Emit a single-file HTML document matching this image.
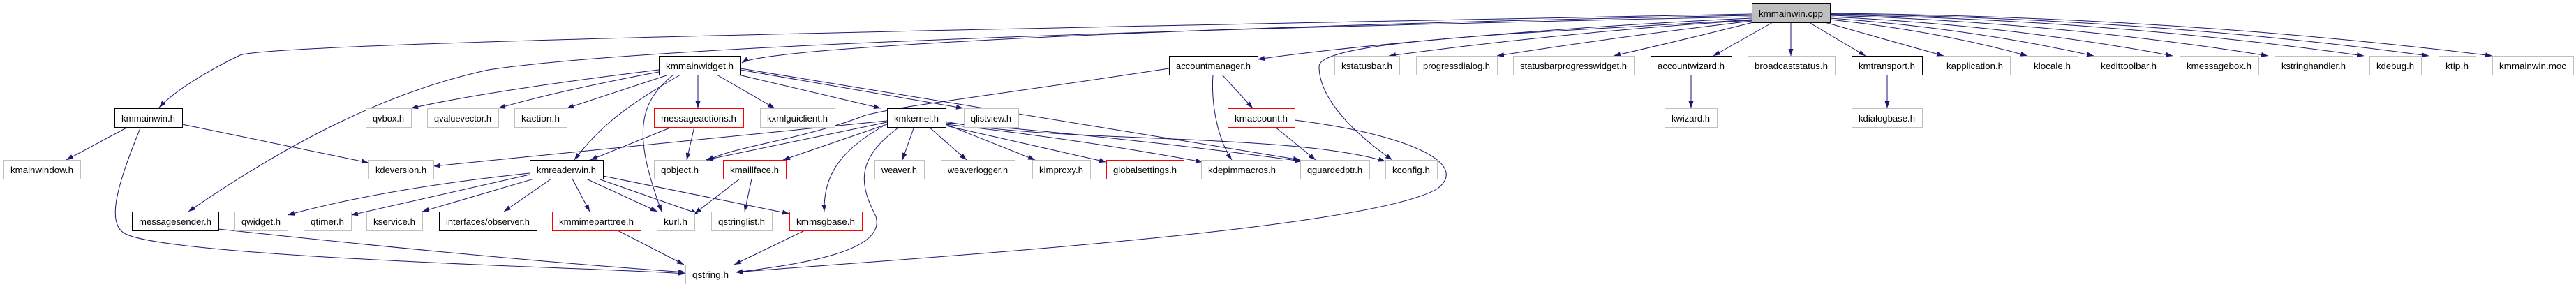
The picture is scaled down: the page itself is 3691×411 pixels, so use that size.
<!DOCTYPE html>
<html><head><meta charset="utf-8"><style>html,body{margin:0;padding:0;background:#fff;}svg{display:block}</style></head><body>
<svg width="3691" height="411" viewBox="0 0 3691 411" xmlns="http://www.w3.org/2000/svg" font-family="Liberation Sans, sans-serif" font-size="13">
<defs><marker id="a" markerUnits="userSpaceOnUse" viewBox="0 0 10 7" markerWidth="10" markerHeight="7" refX="10" refY="3.5" orient="auto"><path d="M0,0 L10,3.5 L0,7 z" fill="#191970"/></marker></defs>
<g fill="none" stroke="#191970" stroke-width="1" marker-end="url(#a)">
<path d="M2510,20 C1500,40 400,60 344,79 C300,100 250,130 228,154"/>
<path d="M2510,22 C1800,35 1100,65 1063,90"/>
<path d="M2510,24 C1500,45 900,70 700,100 C560,130 420,200 270,303"/>
<path d="M2510,26 C2200,40 1900,70 1802,85"/>
<path d="M2510,28 C2250,45 1890,55 1890,95 C1890,150 1960,205 1995,229"/>
<path d="M2510,29 Q2250,45 1990,80"/>
<path d="M2510,30 Q2300,55 2145,80"/>
<path d="M2512,32 Q2400,60 2312,80"/>
<path d="M2540,32 L2455,80"/>
<path d="M2566,32 L2566,80"/>
<path d="M2592,32 L2673,80"/>
<path d="M2615,32 L2785,80"/>
<path d="M2622,28 Q2780,45 2905,80"/>
<path d="M2622,26 Q2820,40 3000,80"/>
<path d="M2622,24 Q2880,36 3113,80"/>
<path d="M2622,22 Q2950,32 3250,80"/>
<path d="M2622,21 Q3020,28 3387,80"/>
<path d="M2622,20 Q3080,26 3480,80"/>
<path d="M2622,19 Q3120,24 3571,80"/>
<path d="M944,100 Q700,130 589,155"/>
<path d="M944,103 Q800,130 714,155"/>
<path d="M958,107 L812,155"/>
<path d="M1000,107 L1000,155"/>
<path d="M1027,107 L1110,155"/>
<path d="M1058,107 L1262,155"/>
<path d="M1061,100 L1380,155"/>
<path d="M1061,98 L1863,229"/>
<path d="M975,107 C900,150 860,180 823,229"/>
<path d="M965,107 C910,150 910,200 948,303"/>
<path d="M1675,98 C1400,140 1300,150 1240,165 C1150,200 1050,210 1013,230"/>
<path d="M1738,107 C1735,150 1745,200 1765,229"/>
<path d="M1751,107 L1795,155"/>
<path d="M1826,181 L1885,229"/>
<path d="M1855,172 C2000,190 2110,230 2060,270 C1960,330 1300,370 1054,390"/>
<path d="M965,181 L846,229"/>
<path d="M995,181 L984,229"/>
<path d="M1271,173 L621,238"/>
<path d="M1271,175 L1011,229"/>
<path d="M1271,178 L1122,229"/>
<path d="M1265,181 C1195,220 1180,260 1181,303"/>
<path d="M1290,181 C1220,230 1235,270 1255,310 C1270,360 1150,378 1054,390"/>
<path d="M1310,181 L1293,229"/>
<path d="M1330,181 L1385,229"/>
<path d="M1355,178 L1483,229"/>
<path d="M1355,180 L1585,232"/>
<path d="M1355,178 Q1550,200 1723,232"/>
<path d="M1355,176 Q1600,195 1866,231"/>
<path d="M1355,174 C1500,205 1850,190 1985,231"/>
<path d="M185,181 L95,229"/>
<path d="M261,178 L528,233"/>
<path d="M202,181 C170,260 150,320 180,335 C250,370 900,385 982,392"/>
<path d="M759,248 Q550,270 412,308"/>
<path d="M759,250 L503,308"/>
<path d="M765,256 L605,303"/>
<path d="M790,256 L722,303"/>
<path d="M820,256 L845,303"/>
<path d="M840,256 L942,303"/>
<path d="M857,256 L1000,306"/>
<path d="M864,252 L1131,306"/>
<path d="M1060,256 L995,306"/>
<path d="M1077,256 L1067,303"/>
<path d="M885,330 L980,379"/>
<path d="M313,328 Q700,370 982,390"/>
<path d="M1153,330 L1052,379"/>
<path d="M2423,107 L2423,155"/>
<path d="M2704,107 L2704,155"/>
</g>
<g text-anchor="middle" fill="#000">
<rect x="2510.5" y="5.5" width="112" height="27" fill="#bfbfbf" stroke="#000"/><text x="2566" y="24" textLength="92" lengthAdjust="spacingAndGlyphs">kmmainwin.cpp</text>
</g>
<g text-anchor="middle" fill="#000">
<g fill="#fff">
<rect x="944.5" y="80.5" width="117" height="27" stroke="#000"/>
<rect x="1675.5" y="80.5" width="127" height="27" stroke="#000"/>
<rect x="1912.5" y="80.5" width="93" height="27" stroke="#bfbfbf"/>
<rect x="2029.5" y="80.5" width="116" height="27" stroke="#bfbfbf"/>
<rect x="2168.5" y="80.5" width="173" height="27" stroke="#bfbfbf"/>
<rect x="2365.5" y="80.5" width="116" height="27" stroke="#000"/>
<rect x="2504.5" y="80.5" width="125" height="27" stroke="#bfbfbf"/>
<rect x="2653.5" y="80.5" width="101" height="27" stroke="#000"/>
<rect x="2779.5" y="80.5" width="101" height="27" stroke="#bfbfbf"/>
<rect x="2904.5" y="80.5" width="73" height="27" stroke="#bfbfbf"/>
<rect x="3000.5" y="80.5" width="100" height="27" stroke="#bfbfbf"/>
<rect x="3123.5" y="80.5" width="113" height="27" stroke="#bfbfbf"/>
<rect x="3259.5" y="80.5" width="112" height="27" stroke="#bfbfbf"/>
<rect x="3395.5" y="80.5" width="74" height="27" stroke="#bfbfbf"/>
<rect x="3494.5" y="80.5" width="53" height="27" stroke="#bfbfbf"/>
<rect x="3571.5" y="80.5" width="116" height="27" stroke="#bfbfbf"/>
<rect x="164.5" y="155.5" width="97" height="27" stroke="#000"/>
<rect x="524.5" y="155.5" width="65" height="27" stroke="#bfbfbf"/>
<rect x="612.5" y="155.5" width="102" height="27" stroke="#bfbfbf"/>
<rect x="737.5" y="155.5" width="75" height="27" stroke="#bfbfbf"/>
<rect x="937.5" y="155.5" width="128" height="27" stroke="#ff0000"/>
<rect x="1089.5" y="155.5" width="107" height="27" stroke="#bfbfbf"/>
<rect x="1271.5" y="155.5" width="84" height="27" stroke="#000"/>
<rect x="1381.5" y="155.5" width="78" height="27" stroke="#bfbfbf"/>
<rect x="1759.5" y="155.5" width="96" height="27" stroke="#ff0000"/>
<rect x="2385.5" y="155.5" width="75" height="27" stroke="#bfbfbf"/>
<rect x="2653.5" y="155.5" width="101" height="27" stroke="#bfbfbf"/>
<rect x="5.5" y="229.5" width="110" height="27" stroke="#bfbfbf"/>
<rect x="528.5" y="229.5" width="93" height="27" stroke="#bfbfbf"/>
<rect x="759.5" y="229.5" width="105" height="27" stroke="#000"/>
<rect x="937.5" y="229.5" width="74" height="27" stroke="#bfbfbf"/>
<rect x="1036.5" y="229.5" width="90" height="27" stroke="#ff0000"/>
<rect x="1253.5" y="229.5" width="71" height="27" stroke="#bfbfbf"/>
<rect x="1348.5" y="229.5" width="106" height="27" stroke="#bfbfbf"/>
<rect x="1479.5" y="229.5" width="83" height="27" stroke="#bfbfbf"/>
<rect x="1585.5" y="229.5" width="111" height="27" stroke="#ff0000"/>
<rect x="1721.5" y="229.5" width="117" height="27" stroke="#bfbfbf"/>
<rect x="1863.5" y="229.5" width="99" height="27" stroke="#bfbfbf"/>
<rect x="1985.5" y="229.5" width="74" height="27" stroke="#bfbfbf"/>
<rect x="189.5" y="303.5" width="124" height="27" stroke="#000"/>
<rect x="336.5" y="303.5" width="76" height="27" stroke="#bfbfbf"/>
<rect x="435.5" y="303.5" width="68" height="27" stroke="#bfbfbf"/>
<rect x="525.5" y="303.5" width="80" height="27" stroke="#bfbfbf"/>
<rect x="629.5" y="303.5" width="140" height="27" stroke="#000"/>
<rect x="791.5" y="303.5" width="127" height="27" stroke="#ff0000"/>
<rect x="941.5" y="303.5" width="54" height="27" stroke="#bfbfbf"/>
<rect x="1019.5" y="303.5" width="87" height="27" stroke="#bfbfbf"/>
<rect x="1131.5" y="303.5" width="104" height="27" stroke="#ff0000"/>
<rect x="982.5" y="379.5" width="72" height="27" stroke="#bfbfbf"/>
</g>
<text x="1002.5" y="99" textLength="97" lengthAdjust="spacingAndGlyphs">kmmainwidget.h</text>
<text x="1738.5" y="99" textLength="107" lengthAdjust="spacingAndGlyphs">accountmanager.h</text>
<text x="1958.5" y="99" textLength="73" lengthAdjust="spacingAndGlyphs">kstatusbar.h</text>
<text x="2087" y="99" textLength="96" lengthAdjust="spacingAndGlyphs">progressdialog.h</text>
<text x="2254.5" y="99" textLength="153" lengthAdjust="spacingAndGlyphs">statusbarprogresswidget.h</text>
<text x="2423" y="99" textLength="96" lengthAdjust="spacingAndGlyphs">accountwizard.h</text>
<text x="2566.5" y="99" textLength="105" lengthAdjust="spacingAndGlyphs">broadcaststatus.h</text>
<text x="2703.5" y="99" textLength="81" lengthAdjust="spacingAndGlyphs">kmtransport.h</text>
<text x="2829.5" y="99" textLength="81" lengthAdjust="spacingAndGlyphs">kapplication.h</text>
<text x="2940.5" y="99" textLength="53" lengthAdjust="spacingAndGlyphs">klocale.h</text>
<text x="3050" y="99" textLength="80" lengthAdjust="spacingAndGlyphs">kedittoolbar.h</text>
<text x="3179.5" y="99" textLength="93" lengthAdjust="spacingAndGlyphs">kmessagebox.h</text>
<text x="3315" y="99" textLength="92" lengthAdjust="spacingAndGlyphs">kstringhandler.h</text>
<text x="3432" y="99" textLength="54" lengthAdjust="spacingAndGlyphs">kdebug.h</text>
<text x="3520.5" y="99" textLength="33" lengthAdjust="spacingAndGlyphs">ktip.h</text>
<text x="3629" y="99" textLength="96" lengthAdjust="spacingAndGlyphs">kmmainwin.moc</text>
<text x="212.5" y="174" textLength="77" lengthAdjust="spacingAndGlyphs">kmmainwin.h</text>
<text x="556.5" y="174" textLength="45" lengthAdjust="spacingAndGlyphs">qvbox.h</text>
<text x="663" y="174" textLength="82" lengthAdjust="spacingAndGlyphs">qvaluevector.h</text>
<text x="774.5" y="174" textLength="55" lengthAdjust="spacingAndGlyphs">kaction.h</text>
<text x="1001" y="174" textLength="108" lengthAdjust="spacingAndGlyphs">messageactions.h</text>
<text x="1142.5" y="174" textLength="87" lengthAdjust="spacingAndGlyphs">kxmlguiclient.h</text>
<text x="1313" y="174" textLength="64" lengthAdjust="spacingAndGlyphs">kmkernel.h</text>
<text x="1420" y="174" textLength="58" lengthAdjust="spacingAndGlyphs">qlistview.h</text>
<text x="1807" y="174" textLength="76" lengthAdjust="spacingAndGlyphs">kmaccount.h</text>
<text x="2422.5" y="174" textLength="55" lengthAdjust="spacingAndGlyphs">kwizard.h</text>
<text x="2703.5" y="174" textLength="81" lengthAdjust="spacingAndGlyphs">kdialogbase.h</text>
<text x="60" y="248" textLength="90" lengthAdjust="spacingAndGlyphs">kmainwindow.h</text>
<text x="574.5" y="248" textLength="73" lengthAdjust="spacingAndGlyphs">kdeversion.h</text>
<text x="811.5" y="248" textLength="85" lengthAdjust="spacingAndGlyphs">kmreaderwin.h</text>
<text x="974" y="248" textLength="54" lengthAdjust="spacingAndGlyphs">qobject.h</text>
<text x="1081" y="248" textLength="70" lengthAdjust="spacingAndGlyphs">kmaillface.h</text>
<text x="1288.5" y="248" textLength="51" lengthAdjust="spacingAndGlyphs">weaver.h</text>
<text x="1401" y="248" textLength="86" lengthAdjust="spacingAndGlyphs">weaverlogger.h</text>
<text x="1520.5" y="248" textLength="63" lengthAdjust="spacingAndGlyphs">kimproxy.h</text>
<text x="1640.5" y="248" textLength="91" lengthAdjust="spacingAndGlyphs">globalsettings.h</text>
<text x="1779.5" y="248" textLength="97" lengthAdjust="spacingAndGlyphs">kdepimmacros.h</text>
<text x="1912.5" y="248" textLength="79" lengthAdjust="spacingAndGlyphs">qguardedptr.h</text>
<text x="2022" y="248" textLength="54" lengthAdjust="spacingAndGlyphs">kconfig.h</text>
<text x="251" y="322" textLength="104" lengthAdjust="spacingAndGlyphs">messagesender.h</text>
<text x="374" y="322" textLength="56" lengthAdjust="spacingAndGlyphs">qwidget.h</text>
<text x="469" y="322" textLength="48" lengthAdjust="spacingAndGlyphs">qtimer.h</text>
<text x="565" y="322" textLength="60" lengthAdjust="spacingAndGlyphs">kservice.h</text>
<text x="699" y="322" textLength="120" lengthAdjust="spacingAndGlyphs">interfaces/observer.h</text>
<text x="854.5" y="322" textLength="107" lengthAdjust="spacingAndGlyphs">kmmimeparttree.h</text>
<text x="968" y="322" textLength="34" lengthAdjust="spacingAndGlyphs">kurl.h</text>
<text x="1062.5" y="322" textLength="67" lengthAdjust="spacingAndGlyphs">qstringlist.h</text>
<text x="1183" y="322" textLength="84" lengthAdjust="spacingAndGlyphs">kmmsgbase.h</text>
<text x="1018" y="398" textLength="52" lengthAdjust="spacingAndGlyphs">qstring.h</text>
</g>
</svg>
</body></html>
